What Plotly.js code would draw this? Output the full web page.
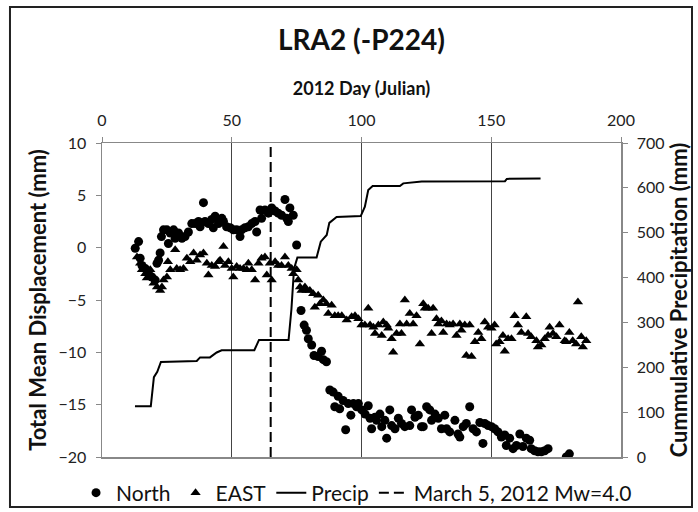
<!DOCTYPE html>
<html>
<head>
<meta charset="utf-8">
<script src="https://cdn.plot.ly/plotly-3.0.1.min.js"></script>
<style>html,body{margin:0;padding:0;background:#fff;}#chart{width:698px;height:512px;}</style>
</head>
<body>
<div id="chart"></div>
<script>
// North component (day, mm)
const northDay = [12.8,14.1,14.7,15.4,16.7,17.9,19.2,20.5,21.2,21.8,22.4,22.9,23.7,25,25.6,26.3,27.6,28.2,29.5,30.8,32,33.3,34.6,35.9,37.2,37.8,39.1,39.7,41,42.3,42.9,43.6,44.9,46.2,46.8,48,49.4,50.6,51.9,53.2,53.8,55.1,56.4,57.7,59,59.6,60.9,61.5,62.8,64.1,65.4,66.7,67.9,69.2,70.5,71.2,71.8,72.4,73.7,75,76.7,77.9,78.8,79.5,80.8,81.7,83.3,84.6,85.3,86.5,87.8,89.1,89.7,91,91.6,92.9,93.9,94.9,95.9,96.9,98.1,98.8,100.1,101.4,102.6,103.3,103.9,105.2,105.8,107.1,107.8,109,109.7,110.9,111.6,112.9,114.2,115.4,116.7,118.6,119.3,120.6,121.9,123.1,123.8,125.1,126.3,127,128.3,129.6,130.8,132.1,132.8,134,136,137.2,137.9,139.2,140.4,141.7,143,144.3,145.6,146.8,147.5,148.8,150.1,151.3,152.6,153.9,155.2,155.8,157.1,158.4,159.7,161,162.2,163.5,164.8,165.4,166.7,168,169.3,170.6,171.9,178.9,180.1];
const northVal = [-0.06,0.58,-1.0,-1.7,-2.0,-2.3,-2.8,-3.1,-1.5,-1.2,-0.5,1.06,1.7,1.7,0.4,1.4,1.7,0.9,1.4,0.9,1.06,1.5,2.3,2.3,2.5,2.0,4.3,2.5,2.3,2.7,1.9,3.0,2.3,2.8,2.5,2.0,1.9,1.7,1.7,1.06,1.7,1.9,2.0,2.3,2.5,1.5,3.6,2.8,3.6,3.3,3.8,3.5,3.3,3.1,4.6,2.8,2.5,3.8,3.1,0.26,-6.0,-7.4,-7.9,-8.7,-9.3,-10.3,-10.4,-9.9,-10.7,-10.9,-13.6,-13.8,-15.2,-14.2,-15.4,-14.6,-17.4,-14.9,-16.0,-14.9,-15.2,-14.9,-15.5,-15.9,-15.1,-16.3,-17.3,-16.2,-16.5,-15.9,-17.1,-16.5,-18.2,-15.5,-17.0,-17.3,-16.3,-16.8,-17.1,-17.0,-15.5,-16.2,-16.0,-17.1,-17.1,-15.2,-15.5,-16.5,-15.9,-16.3,-17.3,-16.0,-17.3,-17.6,-16.5,-17.8,-18.1,-17.1,-16.8,-15.2,-17.3,-17.6,-16.7,-18.7,-16.8,-17.0,-17.1,-17.3,-17.6,-18.1,-17.9,-18.9,-18.2,-19.2,-18.9,-17.8,-19.0,-18.2,-18.4,-19.2,-19.4,-19.5,-19.5,-19.4,-19.2,-20.0,-19.7];

// East component (day, mm)
const eastDay = [13.5,14.7,15.4,16.7,17.3,18.6,19.9,21.2,22.4,23.1,23.7,25,25.4,26.3,28.2,28.8,30.1,31.4,32.7,34,35.3,36.5,37.8,39.1,40.4,41,42.3,43.6,44.9,45.5,46.8,47.4,48.7,50,50.6,51.9,53.2,54.5,55.8,56.4,57.7,59,60.3,61.5,62.8,63.5,64.7,65.4,66.7,67.9,69.2,70.5,71.8,73.1,73.7,75,75.6,76.3,76.9,78.2,78.8,80.1,81.4,82,83.3,84,85.3,86.5,87.2,88.5,89.7,91,92.4,94.3,96.2,97.5,98.8,100,101.3,102.6,103.3,104.6,105.2,106.5,107.8,108.4,109.7,110.3,111.6,112.2,113.5,114.8,115.4,116.7,117.4,118.6,119.9,121.2,122.5,123.8,124.4,125.7,127,127.6,128.9,129.6,130.8,131.5,132.8,134,135.3,136.6,137.9,138.5,139.8,140.4,141.7,142.4,143.7,145,146.2,147.5,148.8,150.1,151.3,151.9,153.2,154.5,155.2,156.5,157.8,159,160.3,161.6,163.5,164.2,165.4,167.4,168,169.3,170.6,171.9,172.5,173.8,175.1,176.3,178.3,178.9,180.1,181.4,182.7,183.4,184.7,185.3,186.6];
const eastVal = [-0.9,-1.5,-2.1,-2.5,-2.9,-2.1,-3.4,-3.75,-4.1,-3.75,-3.1,-2.8,-1.35,-2.1,-0.2,-2.0,-2.1,-2.0,-1.0,-1.35,-0.5,-1.2,-0.7,-0.5,-1.5,-2.6,-1.7,-1.8,-1.35,-1.2,0.1,-1.7,-1.35,-2.0,-2.8,-1.8,-2.0,-2.0,-2.1,-1.5,-2.1,-3.1,-1.5,-1.0,-0.9,-2.6,-1.5,-3.1,-1.35,-1.7,-1.7,-0.9,-1.7,-2.0,-2.5,-2.1,-3.1,-3.75,-4.1,-3.75,-4.1,-4.1,-4.4,-5.7,-4.55,-5.35,-5.0,-5.35,-6.3,-5.5,-6.5,-6.5,-6.5,-6.9,-6.6,-6.5,-6.8,-7.4,-7.4,-5.8,-7.4,-7.6,-8.2,-7.4,-8.4,-7.1,-7.4,-7.7,-8.7,-10.0,-8.2,-7.3,-8.2,-5.0,-7.3,-6.3,-7.3,-6.5,-9.2,-5.35,-5.8,-5.8,-8.2,-5.8,-6.8,-7.3,-7.0,-8.1,-7.3,-7.4,-7.3,-8.4,-7.3,-7.9,-7.4,-10.3,-7.4,-10.4,-9.0,-8.1,-8.7,-7.1,-7.6,-7.7,-7.4,-9.2,-9.0,-8.4,-9.9,-8.7,-8.7,-6.5,-7.4,-8.1,-6.6,-8.2,-8.5,-8.9,-9.5,-9.3,-8.7,-8.4,-7.6,-8.2,-8.5,-7.4,-8.9,-9.0,-8.1,-8.9,-9.2,-5.2,-8.5,-9.5,-8.9];

// Cumulative precipitation (day, mm)
const precipDay = [12.7,18.8,20.0,21.3,22.7,36.5,37.8,41.6,44.2,46.1,58.7,60.5,71.9,73.0,74.0,75.3,82.7,84.3,86.6,87.6,90.4,99.7,101.3,102.6,104.3,114.8,116.1,123.2,155.3,156.0,169.0];
const precipVal = [113,113,178,190,212,214,222,222,233,238,238,261,261,330,420,445,445,480,495,522,535,537,558,595,604,604,610,614,615,620,621];

// Earthquake marker
const quakeDay = [65,65];
const quakeVal = [-20,10];

const FONT = "Lato, 'Noto Sans', sans-serif";

const traces = [
  {x: northDay, y: northVal, name: 'North', type: 'scatter', mode: 'markers',
   marker: {symbol: 'circle', size: 9, color: '#000'}, xaxis: 'x', yaxis: 'y'},
  {x: eastDay, y: eastVal, name: 'EAST', type: 'scatter', mode: 'markers',
   marker: {symbol: 'triangle-up', size: 9, color: '#000'}, xaxis: 'x', yaxis: 'y'},
  {x: precipDay, y: precipVal, name: 'Precip', type: 'scatter', mode: 'lines',
   line: {color: '#000', width: 2}, xaxis: 'x', yaxis: 'y2'},
  {x: quakeDay, y: quakeVal, name: 'March 5, 2012 Mw=4.0', type: 'scatter', mode: 'lines',
   line: {color: '#000', width: 2, dash: '10px,5px'}, xaxis: 'x', yaxis: 'y'}
];

const layout = {
  width: 698, height: 512,
  margin: {l: 102, r: 77, t: 143, b: 55, pad: 0, autoexpand: false},
  paper_bgcolor: '#fff', plot_bgcolor: '#fff',
  font: {family: FONT, size: 16, color: '#222'},
  showlegend: true,
  title: {text: '<b>LRA2 (-P224)</b>', font: {family: FONT, size: 28, color: '#111'},
          x: 0.5, xref: 'paper', xanchor: 'center', y: 1 - 40/512, yref: 'container', yanchor: 'middle'},
  xaxis: {
    side: 'top', range: [0, 200], dtick: 50, tick0: 0,
    showline: true, linecolor: '#888', linewidth: 1.5, mirror: true,
    showgrid: true, gridcolor: '#444', gridwidth: 1,
    zeroline: false, ticks: 'outside', ticklen: 5, tickcolor: '#888', ticklabelstandoff: 4,
    tickfont: {family: FONT, size: 16, color: '#222'},
    title: {text: '<b>2012 Day (Julian)</b>', font: {family: FONT, size: 18, color: '#111'}, standoff: 10}
  },
  yaxis: {
    range: [-20, 10], dtick: 5, showline: true, linecolor: '#888', linewidth: 1.5,
    showgrid: false, zeroline: false, ticks: 'outside', ticklen: 5, tickcolor: '#888', ticklabelstandoff: 6,
    tickfont: {family: FONT, size: 16, color: '#222'},
    title: {text: '<b>Total Mean Displacement (mm)</b>', font: {family: FONT, size: 22, color: '#111'}, standoff: 6}
  },
  yaxis2: {
    range: [0, 700], dtick: 100, overlaying: 'y', side: 'right', anchor: 'x',
    showline: true, linecolor: '#888', linewidth: 1.5,
    showgrid: false, zeroline: false, ticks: 'outside', ticklen: 5, tickcolor: '#888', ticklabelstandoff: 6,
    tickfont: {family: FONT, size: 16, color: '#222'},
    title: {text: '<b>Cummulative Precipitation (mm)</b>', font: {family: FONT, size: 22, color: '#111'}, standoff: 8}
  },
  legend: {orientation: 'h', xref: 'paper', yref: 'paper',
           x: -0.050, xanchor: 'left', y: -0.1146, yanchor: 'middle',
           font: {family: FONT, size: 21, color: '#111'}, bgcolor: 'rgba(0,0,0,0)', itemwidth: 30, traceorder: 'normal'},
  shapes: [
    {type: 'rect', xref: 'paper', yref: 'paper', x0: -0.1773, x1: 1.1368, y0: -0.159, y1: 1.433,
     line: {color: '#222', width: 2}, fillcolor: 'rgba(0,0,0,0)', layer: 'below'}
  ]
};

Plotly.newPlot('chart', traces, layout, {staticPlot: true, displayModeBar: false});
</script>
</body>
</html>
